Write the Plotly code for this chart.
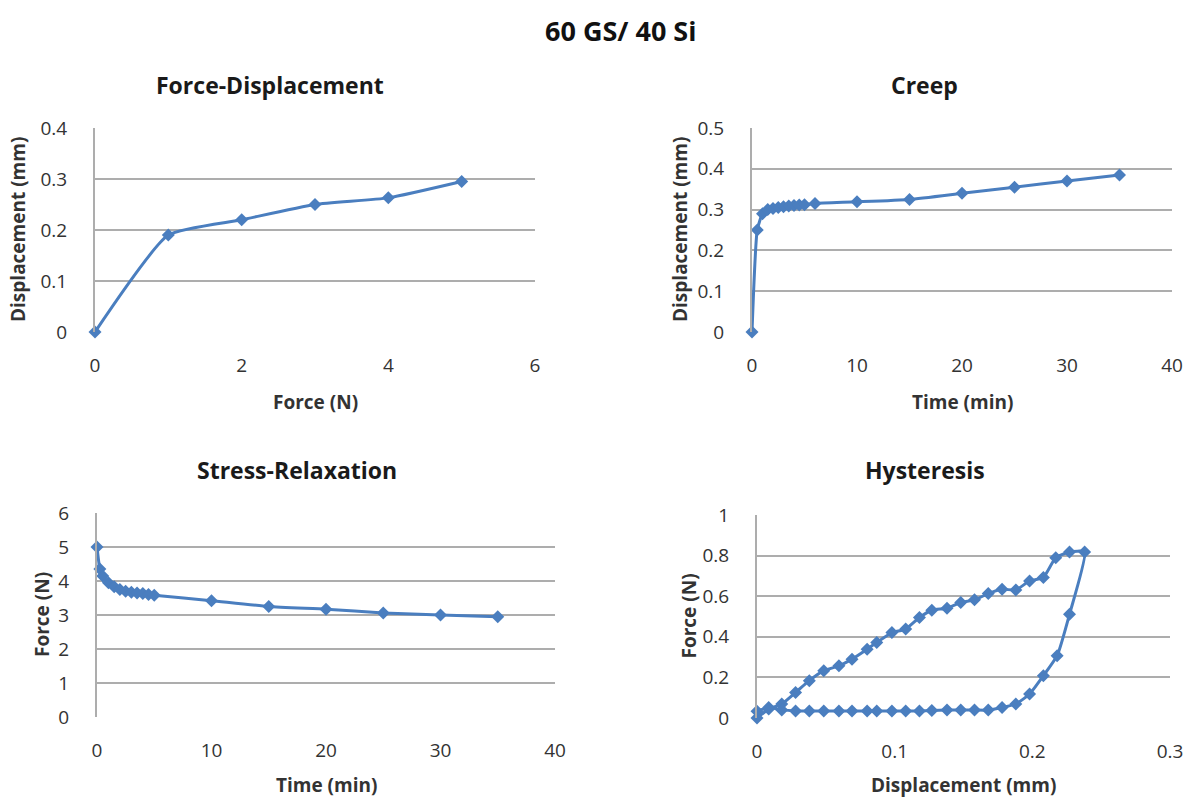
import plotly.graph_objects as go

# ---------------- data ----------------
fd_force = [0, 1, 2, 3, 4, 5]
fd_disp = [0, 0.19, 0.22, 0.25, 0.263, 0.295]

creep_time = [0, 0.5, 1, 1.5, 2, 2.5, 3, 3.5, 4, 4.5, 5, 6, 10, 15, 20, 25, 30, 35]
creep_disp = [0, 0.25, 0.29, 0.300, 0.303, 0.305, 0.307, 0.309, 0.310, 0.311, 0.312,
              0.315, 0.319, 0.325, 0.340, 0.355, 0.370, 0.385]

sr_time = [0, 0.25, 0.5, 1, 1.5, 2, 2.5, 3, 3.5, 4, 4.5, 5, 10, 15, 20, 25, 30, 35]
sr_force = [5.0, 4.35, 4.15, 3.95, 3.83, 3.75, 3.70, 3.67, 3.65, 3.63, 3.60, 3.58,
            3.42, 3.25, 3.17, 3.06, 3.0, 2.95]

hys_disp = [0, 0.0085, 0.018, 0.028, 0.038, 0.0485, 0.0595, 0.069, 0.080, 0.087, 0.098,
            0.108, 0.118, 0.127, 0.138, 0.148, 0.158, 0.168, 0.178, 0.188, 0.198, 0.208,
            0.217, 0.227, 0.238,
            0.227, 0.218, 0.208, 0.198, 0.188, 0.178, 0.168, 0.158, 0.148, 0.138, 0.127,
            0.118, 0.108, 0.098, 0.087, 0.080, 0.069, 0.0595, 0.0485, 0.038, 0.028, 0.018,
            0.0085, 0]
hys_force = [0.0, 0.044, 0.069, 0.126, 0.184, 0.233, 0.257, 0.290, 0.339, 0.372, 0.421,
             0.438, 0.495, 0.531, 0.541, 0.569, 0.582, 0.613, 0.634, 0.631, 0.675, 0.692,
             0.790, 0.818, 0.818,
             0.511, 0.307, 0.208, 0.118, 0.069, 0.052, 0.039, 0.039, 0.039, 0.039, 0.037,
             0.035, 0.035, 0.035, 0.035, 0.035, 0.035, 0.035, 0.035, 0.035, 0.035, 0.040,
             0.052, 0.033]

main_title = "60 GS/ 40 Si"
titles = ["Force-Displacement", "Creep", "Stress-Relaxation", "Hysteresis"]
xtitles = ["Force (N)", "Time (min)", "Time (min)", "Displacement (mm)"]
ytitles = ["Displacement (mm)", "Displacement (mm)", "Force (N)", "Force (N)"]

# ---------------- layout helpers ----------------
W, H = 1189, 800
FONT = "Open Sans, Lato, sans-serif"
BLUE = "#4a7ebf"
GRID = "#adadad"
TXT = "#333333"

def px_x(p):
    return p / W

def px_y(p):
    return 1 - p / H

# pixel boxes: (x_left, x_right, y_top, y_bottom)
boxes = [(95, 535, 128, 332), (752, 1172, 128, 332), (97, 555, 513, 717), (757, 1170, 515, 718)]
title_pos = [(270, 85), (924, 85), (297, 470), (925, 470)]
xtitle_y = [402, 402, 785, 785]
ytitle_x = [18, 680, 42, 688]
xranges = [[0, 6], [0, 40], [0, 40], [0, 0.3]]
yranges = [[0, 0.4], [0, 0.5], [0, 6], [0, 1]]
xdt = [2, 10, 10, 0.1]
ydt = [0.1, 0.1, 1, 0.2]

fig = go.Figure()
series = [(fd_force, fd_disp), (creep_time, creep_disp), (sr_time, sr_force), (hys_disp, hys_force)]
for i, (xs, ys) in enumerate(series):
    sfx = "" if i == 0 else str(i + 1)
    fig.add_trace(go.Scatter(
        x=xs, y=ys, mode="lines+markers",
        line=dict(color=BLUE, width=3, shape="spline", smoothing=0.5),
        marker=dict(symbol="diamond", size=10, color=BLUE),
        xaxis="x" + sfx, yaxis="y" + sfx, showlegend=False, cliponaxis=False))

layout = dict(width=W, height=H, margin=dict(l=0, r=0, t=0, b=0),
              paper_bgcolor="white", plot_bgcolor="white", showlegend=False,
              font=dict(family=FONT, color=TXT))
annotations = [dict(text="<b>" + main_title + "</b>", x=px_x(621), y=px_y(31), xref="paper", yref="paper",
                    xanchor="center", yanchor="middle", showarrow=False,
                    font=dict(size=27, color="#111111", family=FONT))]

for i in range(4):
    sfx = "" if i == 0 else str(i + 1)
    xl, xr, yt, yb = boxes[i]
    layout["xaxis" + sfx] = dict(
        domain=[px_x(xl), px_x(xr)], range=xranges[i], dtick=xdt[i], anchor="y" + sfx,
        showgrid=False, zeroline=False, showline=False, ticks="", automargin=False,
        ticklabelstandoff=20, tickfont=dict(size=19, color=TXT, family=FONT), fixedrange=True)
    layout["yaxis" + sfx] = dict(
        domain=[px_y(yb), px_y(yt)], range=yranges[i], dtick=ydt[i], anchor="x" + sfx,
        showgrid=True, gridcolor=GRID, gridwidth=2, zeroline=False,
        showline=True, linecolor=GRID, linewidth=2, ticks="", automargin=False,
        ticklabelstandoff=22, tickfont=dict(size=19, color=TXT, family=FONT), fixedrange=True)
    cx = (xl + xr) / 2
    tx, ty = title_pos[i]
    annotations.append(dict(text="<b>" + titles[i] + "</b>", x=px_x(tx), y=px_y(ty),
                            xref="paper", yref="paper", xanchor="center", yanchor="middle",
                            showarrow=False, font=dict(size=23, color="#1a1a1a", family=FONT)))
    annotations.append(dict(text="<b>" + xtitles[i] + "</b>", x=px_x(cx), y=px_y(xtitle_y[i]),
                            xref="paper", yref="paper", xanchor="center", yanchor="middle",
                            showarrow=False, font=dict(size=19, color=TXT, family=FONT)))
    annotations.append(dict(text="<b>" + ytitles[i] + "</b>", x=px_x(ytitle_x[i]),
                            y=px_y((yt + yb) / 2), xref="paper", yref="paper",
                            xanchor="center", yanchor="middle", showarrow=False,
                            textangle=-90, font=dict(size=19, color=TXT, family=FONT)))

layout["annotations"] = annotations
fig.update_layout(**layout)
fig.write_html("out.html")
